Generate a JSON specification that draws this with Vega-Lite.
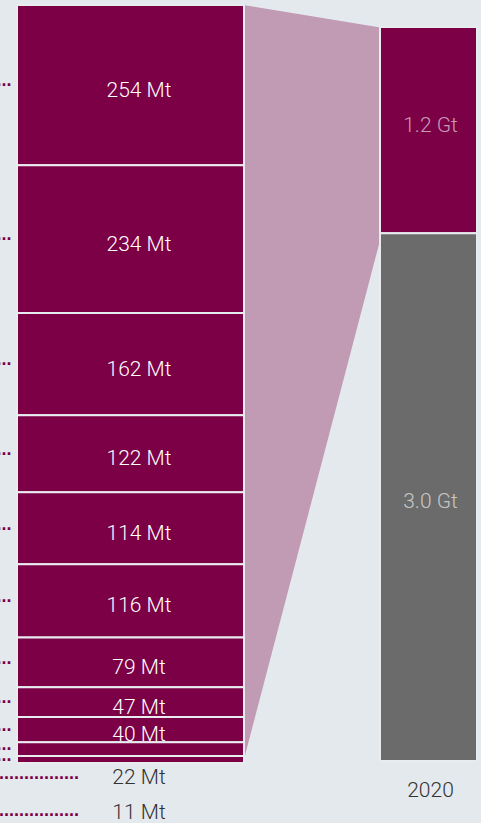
{
  "$schema": "https://vega.github.io/schema/vega-lite/v6.json",
  "width": 481,
  "height": 823,
  "padding": 0,
  "autosize": {"type": "none"},
  "background": "#e4e9ed",
  "config": {"view": {"stroke": null}},
  "datasets": {
    "sectors": [
      {"rank": 1, "value": 254, "label": "254 Mt"},
      {"rank": 2, "value": 234, "label": "234 Mt"},
      {"rank": 3, "value": 162, "label": "162 Mt"},
      {"rank": 4, "value": 122, "label": "122 Mt"},
      {"rank": 5, "value": 114, "label": "114 Mt"},
      {"rank": 6, "value": 116, "label": "116 Mt"},
      {"rank": 7, "value": 79, "label": "79 Mt"},
      {"rank": 8, "value": 47, "label": "47 Mt"},
      {"rank": 9, "value": 40, "label": "40 Mt"},
      {"rank": 10, "value": 22, "label": "22 Mt"},
      {"rank": 11, "value": 11, "label": "11 Mt"}
    ],
    "total": [
      {"rank": 1, "value": 1.18, "label": "1.2 Gt"},
      {"rank": 2, "value": 3.02, "label": "3.0 Gt"}
    ],
    "connector": [
      {"end": "breakdown", "top": 0, "bottom": 1201},
      {"end": "2020", "top": 36, "bottom": 361}
    ],
    "years": [{"year": "2020"}]
  },
  "layer": [
    {
      "data": {"name": "connector"},
      "mark": {"type": "area", "color": "#c19ab3", "opacity": 1},
      "encoding": {
        "x": {"field": "end", "type": "nominal", "sort": null,
              "scale": {"type": "point", "domain": ["breakdown", "2020"], "range": [243, 382], "padding": 0},
              "axis": null},
        "y": {"field": "top", "type": "quantitative", "stack": null,
              "scale": {"domain": [0, 1201], "range": [5, 763], "nice": false, "zero": false},
              "axis": null},
        "y2": {"field": "bottom"}
      }
    },
    {
      "resolve": {"scale": {"y": "independent"}},
      "layer": [
        {
          "data": {"name": "sectors"},
          "transform": [{"stack": "value", "groupby": [], "sort": [{"field": "rank", "order": "ascending"}], "as": ["y0", "y1"]}],
          "mark": {"type": "bar", "color": "#7c0046", "stroke": "#e9ecef", "strokeWidth": 2},
          "encoding": {
            "x": {"datum": 17, "type": "quantitative", "scale": {"domain": [0, 481], "range": [0, 481], "nice": false, "zero": false}, "axis": null},
            "x2": {"datum": 244},
            "y": {"field": "y0", "type": "quantitative", "scale": {"domain": [0, 1201], "range": [5, 763], "nice": false, "zero": false}, "axis": null},
            "y2": {"field": "y1"}
          }
        },
        {
          "data": {"name": "total"},
          "transform": [{"stack": "value", "groupby": [], "sort": [{"field": "rank", "order": "ascending"}], "as": ["y0", "y1"]}],
          "mark": {"type": "bar", "stroke": "#e9ecef", "strokeWidth": 2},
          "encoding": {
            "x": {"datum": 380, "type": "quantitative", "scale": {"domain": [0, 481], "range": [0, 481], "nice": false, "zero": false}, "axis": null},
            "x2": {"datum": 477},
            "y": {"field": "y0", "type": "quantitative", "scale": {"domain": [0, 4.2], "range": [27, 761], "nice": false, "zero": false}, "axis": null},
            "y2": {"field": "y1"},
            "color": {"field": "label", "type": "nominal", "scale": {"domain": ["1.2 Gt", "3.0 Gt"], "range": ["#7c0046", "#6b6b6b"]}, "legend": null}
          }
        },
        {
          "data": {"name": "sectors"},
          "transform": [
            {"fold": ["value", "value"], "as": ["part", "v"]},
            {"stack": "v", "groupby": [], "sort": [{"field": "rank", "order": "ascending"}], "as": ["s0", "s1"]},
            {"window": [{"op": "row_number", "as": "copy"}], "groupby": ["rank"], "sort": [{"field": "s0", "order": "ascending"}]},
            {"filter": "datum.copy == 2"}
          ],
          "layer": [
            {
              "transform": [{"filter": "datum.rank <= 9"}],
              "mark": {"type": "text", "align": "center", "baseline": "middle", "dy": 5.5, "font": "Roboto", "fontWeight": 300, "fontSize": 21, "color": "#ffffff"},
              "encoding": {
                "x": {"datum": 139, "type": "quantitative", "scale": {"domain": [0, 481], "range": [0, 481], "nice": false, "zero": false}, "axis": null},
                "y": {"field": "s0", "type": "quantitative", "scale": {"domain": [0, 2402], "range": [5, 763], "nice": false, "zero": false}, "axis": null},
                "text": {"field": "label"}
              }
            },
            {
              "mark": {"type": "text", "text": "...", "align": "right", "baseline": "alphabetic", "dy": 1.3, "font": "Liberation Sans", "fontWeight": "bold", "fontSize": 18, "color": "#7c0046"},
              "encoding": {
                "x": {"datum": 11.5, "type": "quantitative", "scale": {"domain": [0, 481], "range": [0, 481], "nice": false, "zero": false}, "axis": null},
                "y": {"field": "s0", "type": "quantitative", "scale": {"domain": [0, 2402], "range": [5, 763], "nice": false, "zero": false}, "axis": null}
              }
            },
            {
              "transform": [{"filter": "datum.rank == 10"}],
              "mark": {"type": "text", "text": "................", "align": "left", "baseline": "alphabetic", "dy": 29.9, "font": "Liberation Sans", "fontWeight": "bold", "fontSize": 18, "color": "#7c0046"},
              "encoding": {
                "x": {"datum": -1, "type": "quantitative", "scale": {"domain": [0, 481], "range": [0, 481], "nice": false, "zero": false}, "axis": null},
                "y": {"field": "s0", "type": "quantitative", "scale": {"domain": [0, 2402], "range": [5, 763], "nice": false, "zero": false}, "axis": null}
              }
            },
            {
              "transform": [{"filter": "datum.rank == 10"}],
              "mark": {"type": "text", "align": "center", "baseline": "middle", "dy": 28.7, "font": "Roboto", "fontWeight": 300, "fontSize": 21, "color": "#333333"},
              "encoding": {
                "x": {"datum": 139, "type": "quantitative", "scale": {"domain": [0, 481], "range": [0, 481], "nice": false, "zero": false}, "axis": null},
                "y": {"field": "s0", "type": "quantitative", "scale": {"domain": [0, 2402], "range": [5, 763], "nice": false, "zero": false}, "axis": null},
                "text": {"field": "label"}
              }
            },
            {
              "transform": [{"filter": "datum.rank == 11"}],
              "mark": {"type": "text", "text": "................", "align": "left", "baseline": "alphabetic", "dy": 56.6, "font": "Liberation Sans", "fontWeight": "bold", "fontSize": 18, "color": "#7c0046"},
              "encoding": {
                "x": {"datum": -1, "type": "quantitative", "scale": {"domain": [0, 481], "range": [0, 481], "nice": false, "zero": false}, "axis": null},
                "y": {"field": "s0", "type": "quantitative", "scale": {"domain": [0, 2402], "range": [5, 763], "nice": false, "zero": false}, "axis": null}
              }
            },
            {
              "transform": [{"filter": "datum.rank == 11"}],
              "mark": {"type": "text", "align": "center", "baseline": "middle", "dy": 53.4, "font": "Roboto", "fontWeight": 300, "fontSize": 21, "color": "#333333"},
              "encoding": {
                "x": {"datum": 139, "type": "quantitative", "scale": {"domain": [0, 481], "range": [0, 481], "nice": false, "zero": false}, "axis": null},
                "y": {"field": "s0", "type": "quantitative", "scale": {"domain": [0, 2402], "range": [5, 763], "nice": false, "zero": false}, "axis": null},
                "text": {"field": "label"}
              }
            }
          ]
        },
        {
          "data": {"name": "total"},
          "transform": [
            {"fold": ["value", "value"], "as": ["part", "v"]},
            {"stack": "v", "groupby": [], "sort": [{"field": "rank", "order": "ascending"}], "as": ["s0", "s1"]},
            {"window": [{"op": "row_number", "as": "copy"}], "groupby": ["rank"], "sort": [{"field": "s0", "order": "ascending"}]},
            {"filter": "datum.copy == 2"}
          ],
          "layer": [
            {
              "transform": [{"filter": "datum.rank == 1"}],
              "mark": {"type": "text", "align": "center", "baseline": "middle", "dy": -4.4, "font": "Roboto", "fontWeight": 300, "fontSize": 21, "color": "#c99ab8"},
              "encoding": {
                "x": {"datum": 430.5, "type": "quantitative", "scale": {"domain": [0, 481], "range": [0, 481], "nice": false, "zero": false}, "axis": null},
                "y": {"field": "s0", "type": "quantitative", "scale": {"domain": [0, 8.4], "range": [27, 761], "nice": false, "zero": false}, "axis": null},
                "text": {"field": "label"}
              }
            },
            {
              "transform": [{"filter": "datum.rank == 2"}],
              "mark": {"type": "text", "align": "center", "baseline": "middle", "dy": 4.6, "font": "Roboto", "fontWeight": 300, "fontSize": 21, "color": "#c6c6c6"},
              "encoding": {
                "x": {"datum": 430.5, "type": "quantitative", "scale": {"domain": [0, 481], "range": [0, 481], "nice": false, "zero": false}, "axis": null},
                "y": {"field": "s0", "type": "quantitative", "scale": {"domain": [0, 8.4], "range": [27, 761], "nice": false, "zero": false}, "axis": null},
                "text": {"field": "label"}
              }
            }
          ]
        },
        {
          "data": {"name": "years"},
          "mark": {"type": "text", "align": "center", "baseline": "middle", "dy": 29.5, "font": "Roboto", "fontWeight": 300, "fontSize": 21, "color": "#333333"},
          "encoding": {
            "x": {"datum": 430.5, "type": "quantitative", "scale": {"domain": [0, 481], "range": [0, 481], "nice": false, "zero": false}, "axis": null},
            "y": {"datum": 4.2, "type": "quantitative", "scale": {"domain": [0, 4.2], "range": [27, 761], "nice": false, "zero": false}, "axis": null},
            "text": {"field": "year"}
          }
        }
      ]
    }
  ],
  "resolve": {"scale": {"x": "independent", "y": "independent"}}
}
